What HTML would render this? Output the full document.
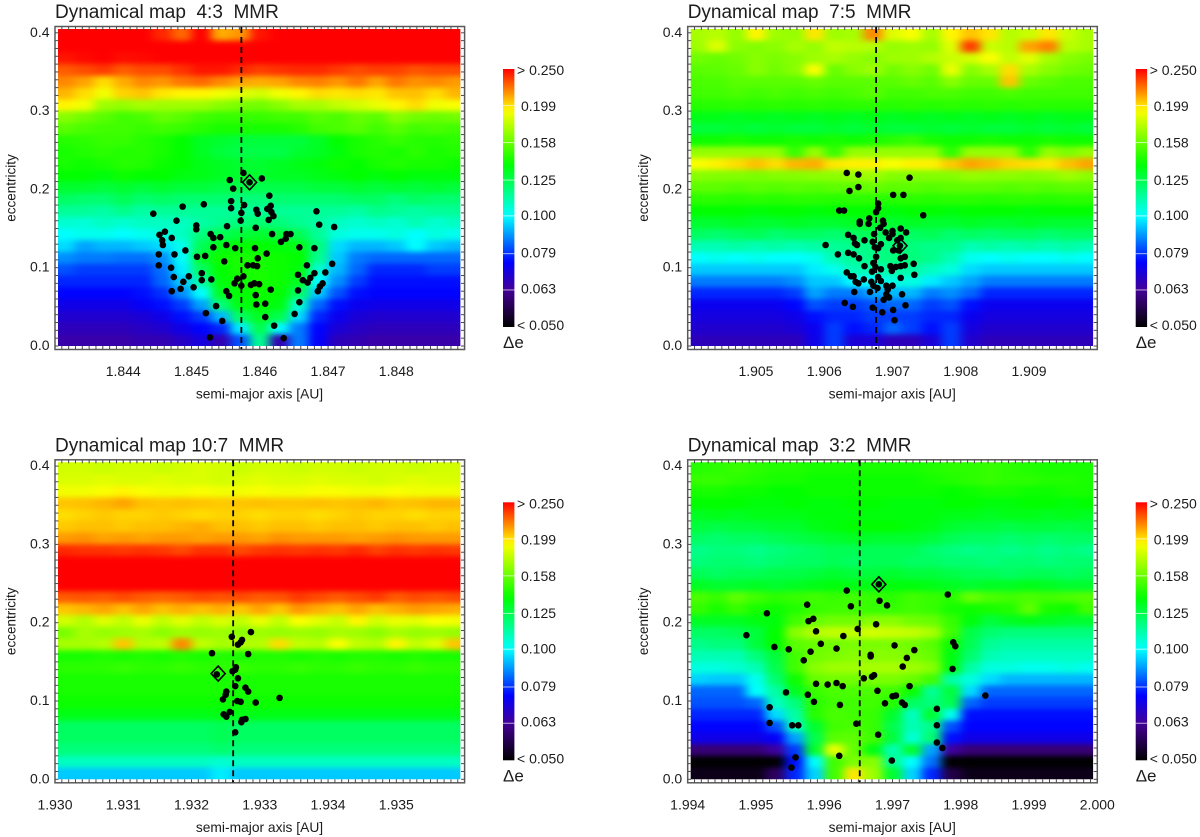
<!DOCTYPE html>
<html lang="en">
<head>
<meta charset="utf-8">
<title>Dynamical maps of mean-motion resonances</title>
<style>
html,body{margin:0;padding:0;background:#fff;}
svg{display:block;font-family:"Liberation Sans",sans-serif;}
text{fill:#1c1c1c;}
</style>
</head>
<body>
<svg id="figure" xmlns="http://www.w3.org/2000/svg" width="1200" height="837" viewBox="0 0 1200 837">
<defs>
<filter id="smooth" filterUnits="userSpaceOnUse" x="0" y="0" width="1200" height="837" color-interpolation-filters="sRGB">
<feGaussianBlur stdDeviation="5 2.6"/>
</filter>
</defs>
</svg>
<script>
const eccentricityRows = [0.3975,0.3825,0.3675,0.3525,0.3375,0.3225,0.3075,0.2925,0.2775,0.2625,0.2475,0.2325,0.2175,0.2025,0.1875,0.1725,0.1575,0.1425,0.1275,0.1125,0.0975,0.0825,0.0675,0.0525,0.0375,0.0225,0.0075];
const eccentricityTicks = ['0.0','0.1','0.2','0.3','0.4'];
const colorbarLabels = ['< 0.050','0.063','0.079','0.100','0.125','0.158','0.199','> 0.250'];
const colorbarValues = [0.05,0.063,0.079,0.1,0.125,0.158,0.199,0.25];

const ticks43 = ['1.844','1.845','1.846','1.847','1.848'];
const ticks75 = ['1.905','1.906','1.907','1.908','1.909'];
const ticks107 = ['1.930','1.931','1.932','1.933','1.934','1.935'];
const ticks32 = ['1.994','1.995','1.996','1.997','1.998','1.999','2.000'];

const values43 = [
[262,262,262,262,262,240,225,250,210,215,245,262,262,262,262,262,262,262,262,262,262],
[258,258,258,258,258,258,256,258,258,258,258,258,258,258,258,258,258,258,258,258,258],
[245,248,250,247,248,252,258,258,256,255,255,256,256,255,254,252,250,250,250,250,250],
[228,232,236,228,232,232,238,245,245,240,235,238,240,240,236,232,235,234,230,232,232],
[218,212,200,210,218,215,222,225,218,212,210,212,218,220,215,222,212,222,216,218,214],
[208,200,190,202,205,198,195,195,190,186,182,190,195,200,198,200,198,205,206,200,208],
[195,190,170,168,172,170,170,170,165,162,160,165,172,172,178,182,188,195,200,190,192],
[165,160,155,150,152,158,155,150,148,148,148,150,150,155,152,158,155,165,160,158,160],
[155,152,150,150,148,150,148,145,142,142,142,142,145,150,152,155,150,155,150,152,150],
[145,146,148,148,145,142,138,132,130,128,128,128,128,132,138,142,145,148,145,144,146],
[142,144,146,144,145,142,138,132,128,126,126,126,130,132,136,142,144,142,146,142,144],
[142,140,142,145,144,140,138,134,132,130,130,132,134,136,140,138,142,144,142,142,140],
[138,138,136,140,138,138,135,134,132,130,130,132,132,134,136,138,136,138,136,136,136],
[130,130,128,130,128,130,128,128,126,126,125,126,126,128,128,130,128,130,128,130,128],
[122,120,120,124,120,122,120,120,120,118,118,120,120,120,120,122,122,118,122,120,120],
[114,114,112,116,112,114,114,114,114,114,114,114,114,114,114,112,116,114,112,114,114],
[106,105,108,106,108,108,108,112,115,118,120,118,115,112,108,106,108,106,110,106,108],
[100,102,102,100,102,104,108,118,124,128,130,128,124,114,104,102,102,104,100,104,102],
[96,90,92,92,94,96,102,124,134,138,138,136,134,118,96,92,92,94,100,94,92],
[88,86,86,85,85,88,100,130,140,142,142,140,138,115,94,86,84,84,84,84,84],
[82,80,80,80,80,85,98,122,138,142,142,140,136,106,92,84,78,78,78,80,80],
[78,78,78,78,78,84,94,112,136,140,142,140,132,100,88,80,76,76,76,76,76],
[75,75,75,75,76,79,88,100,132,138,140,138,122,94,82,76,75,75,75,75,75],
[72,72,72,72,74,76,80,90,118,135,138,135,106,84,76,73,72,72,72,72,72],
[69,69,69,69,70,72,76,80,92,122,132,125,96,78,73,70,69,69,69,69,69],
[67,67,67,67,68,69,72,75,78,98,125,100,86,75,70,68,67,67,67,67,67],
[65,65,65,65,66,66,68,71,66,82,115,66,86,74,67,66,65,65,65,65,65]
];

const values75 = [
[172,176,168,195,170,168,198,170,172,218,185,192,172,195,205,198,175,180,198,180,172],
[170,185,166,164,166,172,168,178,176,175,168,170,168,185,236,180,176,212,220,176,172],
[160,158,160,165,162,165,170,172,168,165,170,170,175,180,182,192,178,186,172,165,162],
[155,156,158,165,160,165,192,158,165,170,160,165,160,188,165,172,200,172,165,160,158],
[152,152,155,155,155,155,158,155,155,155,155,158,155,165,158,158,205,158,155,152,152],
[150,150,152,150,152,150,152,150,152,155,150,150,152,152,150,150,152,150,150,150,150],
[145,145,146,145,146,145,146,145,146,146,145,146,145,146,145,146,145,146,145,145,145],
[134,134,132,134,132,134,132,134,132,134,132,134,132,134,132,134,132,134,132,134,134],
[128,128,130,128,130,128,128,130,128,130,128,128,130,128,130,128,128,130,128,130,128],
[140,140,142,140,140,142,140,142,140,142,145,148,142,140,140,142,140,140,142,140,140],
[168,168,168,168,168,148,168,148,168,168,168,168,168,146,168,168,168,146,168,162,168],
[192,196,200,206,200,208,210,198,196,196,192,196,196,204,212,208,202,200,198,206,212],
[165,164,164,162,164,164,166,166,168,170,164,164,164,164,168,166,166,164,166,170,166],
[156,156,154,156,154,156,154,156,156,158,156,156,154,156,156,156,154,156,154,156,156],
[146,146,145,146,145,146,146,145,146,146,145,146,145,146,146,145,146,146,145,146,146],
[138,138,138,136,138,138,136,138,138,138,136,138,138,136,138,138,138,136,138,138,138],
[130,130,132,130,130,132,130,130,132,132,130,132,130,130,132,130,130,132,130,130,130],
[122,120,122,124,120,122,122,120,122,124,122,122,124,120,122,120,122,122,120,122,122],
[110,110,112,110,112,110,112,114,116,116,118,118,116,116,110,112,110,112,110,112,110],
[100,102,100,102,100,100,102,110,114,116,118,118,116,110,102,100,102,100,100,102,100],
[94,94,94,94,94,94,98,102,110,110,112,112,108,104,96,94,94,94,94,94,94],
[86,86,86,86,86,88,94,94,100,100,104,104,98,94,90,86,86,86,86,86,86],
[78,78,78,78,78,80,90,86,86,90,92,92,86,88,84,78,78,78,78,78,78],
[73,73,73,73,73,75,82,80,80,82,84,84,80,82,76,73,73,73,73,73,73],
[71,71,71,71,71,72,76,78,78,80,80,80,78,78,73,71,71,71,71,71,71],
[69,69,69,69,69,70,73,80,76,78,84,80,76,80,71,69,69,69,69,69,69],
[67,67,67,67,67,67,72,80,70,70,67,67,70,80,69,67,67,67,67,67,67]
];

const values107 = [
[182,182,180,182,182,180,182,184,182,180,182,182,180,182,182,180,182,182,180,182,182],
[184,184,186,184,184,186,184,184,182,184,186,184,184,186,184,184,182,184,186,184,184],
[190,190,192,195,192,190,190,192,190,190,192,190,190,192,192,190,190,192,190,190,190],
[205,206,208,212,206,205,206,205,204,205,206,205,205,206,205,206,208,205,206,208,208],
[200,202,204,202,202,204,202,200,202,202,200,202,202,200,202,204,202,202,200,202,202],
[204,206,206,204,206,206,208,210,206,206,204,206,206,204,206,206,204,206,206,204,206],
[214,216,212,214,212,214,214,212,214,214,212,216,214,214,214,212,214,216,214,214,214],
[240,238,238,236,238,236,232,238,238,232,236,238,236,238,236,240,234,238,236,238,236],
[264,264,264,264,264,264,264,264,264,264,264,264,264,264,264,264,264,264,264,264,264],
[264,264,264,264,264,264,264,264,264,264,264,264,264,264,264,264,264,264,264,264,264],
[262,262,262,262,262,262,262,262,262,262,262,262,262,262,262,262,262,262,262,262,262],
[228,230,228,232,228,226,228,232,230,232,228,230,236,232,228,232,236,228,232,230,232],
[205,208,212,206,212,206,210,206,210,205,212,205,215,210,206,212,206,210,214,212,210],
[182,175,185,178,188,178,186,178,184,178,188,178,192,186,180,195,182,188,186,192,190],
[162,172,168,170,172,166,170,168,170,166,170,168,170,168,172,170,166,172,168,170,168],
[172,172,175,205,175,178,218,178,172,175,175,200,178,176,192,178,175,195,178,185,205],
[142,142,144,142,144,142,144,142,144,142,144,144,142,144,142,144,144,142,144,142,142],
[146,146,146,148,146,146,148,146,146,148,146,146,148,146,146,148,146,146,148,146,146],
[142,142,142,142,142,142,142,142,142,142,142,142,142,142,142,142,142,142,142,142,142],
[142,142,142,142,142,142,142,142,142,142,142,142,142,142,142,142,142,142,142,142,142],
[140,140,140,140,140,140,140,140,140,140,140,140,140,140,140,140,140,140,140,140,140],
[134,134,134,134,134,134,134,134,134,134,134,134,134,134,134,134,134,134,134,134,134],
[122,122,122,122,122,122,122,122,124,122,122,122,122,122,122,122,122,122,122,122,122],
[122,122,122,122,122,122,122,122,124,122,122,122,122,122,122,122,122,122,122,122,122],
[118,118,118,118,118,118,118,118,120,118,118,118,118,118,118,118,118,118,118,118,118],
[108,108,108,108,108,108,108,108,106,108,108,108,108,108,108,108,108,108,108,108,108],
[94,94,94,94,94,94,94,94,98,94,94,94,94,94,94,94,94,94,94,94,94]
];

const values32 = [
[145,146,148,146,144,144,142,142,142,142,142,142,144,146,146,148,146,144,142,142,142],
[148,148,146,144,142,142,140,140,140,140,140,140,142,144,146,148,146,146,144,144,142],
[142,142,140,140,138,138,140,140,140,140,140,140,140,138,140,142,142,140,140,142,142],
[138,138,138,136,136,138,136,136,138,138,136,136,136,138,138,136,136,138,138,136,138],
[132,134,132,134,134,134,136,136,136,136,136,136,136,134,134,132,134,134,132,134,132],
[128,126,128,128,130,130,134,136,138,138,138,136,134,130,128,128,126,128,128,126,128],
[122,120,122,122,124,126,128,130,132,130,130,130,128,124,122,122,120,122,120,122,122],
[116,118,118,116,118,120,122,124,124,124,124,124,120,118,116,118,116,118,116,118,116],
[118,120,120,118,120,122,122,124,122,124,124,122,122,120,120,118,120,120,118,120,120],
[124,122,124,124,126,126,128,130,128,128,130,128,128,126,124,124,122,124,124,122,124],
[132,130,130,132,130,132,134,136,134,134,136,136,134,132,130,132,132,134,132,130,130],
[152,148,156,150,146,148,150,148,150,148,146,150,148,145,158,152,150,152,150,152,154],
[148,142,148,142,140,144,148,150,150,148,148,150,148,142,140,142,144,156,142,140,150],
[132,132,132,135,136,150,158,160,160,165,165,160,158,148,136,128,132,134,132,130,130],
[122,122,124,128,138,165,175,178,178,182,180,178,172,150,126,120,118,118,118,118,118],
[116,118,118,128,138,155,158,160,162,162,162,160,155,140,124,114,112,112,112,112,112],
[110,110,110,118,128,150,160,162,165,165,165,162,158,135,120,110,108,108,108,108,108],
[104,104,106,110,125,150,165,170,170,172,172,170,165,135,112,104,104,102,102,104,102],
[95,94,94,102,120,140,158,160,160,162,162,158,150,112,104,96,92,92,92,92,92],
[84,84,84,100,112,132,148,152,152,152,150,140,114,128,96,84,84,84,84,84,84],
[82,82,82,84,108,118,145,150,150,150,145,122,118,125,84,80,80,80,80,80,80],
[78,78,78,78,96,112,145,152,150,148,130,108,130,102,76,76,76,76,76,76,76],
[75,75,75,75,82,108,130,150,152,148,125,110,116,82,75,75,75,75,75,75,75],
[72,72,72,72,74,90,125,155,156,150,128,105,120,76,72,72,72,72,72,72,72],
[60,60,60,60,64,80,130,188,158,135,110,130,90,64,60,60,60,60,60,60,60],
[42,42,42,42,48,76,100,150,162,165,115,100,85,48,42,42,42,42,42,42,42],
[52,52,52,52,58,78,95,150,198,170,130,95,78,56,52,52,52,52,52,52,52]
];

const dots43 = [[1.84444,0.169],[1.84487,0.178],[1.84518,0.181],[1.84478,0.160],[1.84507,0.154],[1.84507,0.149],[1.84461,0.146],[1.84453,0.142],[1.84471,0.138],[1.84457,0.135],[1.84458,0.129],[1.84452,0.117],[1.84475,0.117],[1.84491,0.122],[1.84508,0.114],[1.84520,0.115],[1.84452,0.103],[1.84470,0.100],[1.84474,0.088],[1.84496,0.089],[1.84488,0.082],[1.84484,0.073],[1.84471,0.070],[1.84503,0.075],[1.84515,0.093],[1.84515,0.084],[1.84529,0.085],[1.84528,0.143],[1.84532,0.138],[1.84542,0.139],[1.84532,0.126],[1.84551,0.129],[1.84564,0.125],[1.84552,0.153],[1.84548,0.108],[1.84556,0.212],[1.84561,0.201],[1.84558,0.185],[1.84558,0.176],[1.84576,0.221],[1.84603,0.214],[1.84577,0.180],[1.84573,0.170],[1.84572,0.160],[1.84595,0.174],[1.84597,0.169],[1.84614,0.192],[1.84616,0.179],[1.84611,0.175],[1.84617,0.171],[1.84620,0.166],[1.84613,0.161],[1.84594,0.151],[1.84618,0.143],[1.84639,0.143],[1.84645,0.143],[1.84638,0.137],[1.84631,0.133],[1.84593,0.125],[1.84610,0.118],[1.84597,0.112],[1.84582,0.103],[1.84590,0.103],[1.84596,0.102],[1.84576,0.089],[1.84567,0.086],[1.84563,0.080],[1.84573,0.077],[1.84587,0.078],[1.84592,0.080],[1.84599,0.079],[1.84616,0.072],[1.84594,0.065],[1.84595,0.053],[1.84608,0.054],[1.84608,0.037],[1.84621,0.026],[1.84635,0.010],[1.84527,0.011],[1.84521,0.042],[1.84536,0.051],[1.84545,0.032],[1.84551,0.070],[1.84555,0.064],[1.84651,0.041],[1.84658,0.056],[1.84656,0.071],[1.84656,0.091],[1.84663,0.084],[1.84670,0.081],[1.84674,0.087],[1.84680,0.093],[1.84696,0.094],[1.84669,0.103],[1.84658,0.126],[1.84680,0.125],[1.84706,0.105],[1.84692,0.080],[1.84688,0.076],[1.84685,0.070],[1.84683,0.172],[1.84687,0.155],[1.84709,0.152],[1.84585,0.209]];

const dots75 = [[1.90633,0.221],[1.90650,0.219],[1.90650,0.203],[1.90637,0.198],[1.90725,0.215],[1.90716,0.193],[1.90701,0.193],[1.90745,0.167],[1.90602,0.129],[1.90622,0.173],[1.90629,0.173],[1.90679,0.182],[1.90679,0.176],[1.90676,0.171],[1.90620,0.117],[1.90635,0.119],[1.90643,0.117],[1.90651,0.112],[1.90666,0.163],[1.90652,0.159],[1.90652,0.156],[1.90665,0.156],[1.90686,0.160],[1.90687,0.156],[1.90682,0.151],[1.90690,0.145],[1.90700,0.147],[1.90700,0.143],[1.90712,0.150],[1.90720,0.145],[1.90673,0.143],[1.90635,0.142],[1.90643,0.138],[1.90659,0.135],[1.90671,0.133],[1.90695,0.138],[1.90712,0.138],[1.90707,0.135],[1.90645,0.131],[1.90648,0.129],[1.90683,0.130],[1.90674,0.126],[1.90679,0.125],[1.90701,0.122],[1.90709,0.122],[1.90718,0.114],[1.90712,0.112],[1.90676,0.114],[1.90659,0.102],[1.90672,0.106],[1.90675,0.101],[1.90683,0.098],[1.90670,0.095],[1.90697,0.102],[1.90705,0.101],[1.90712,0.102],[1.90718,0.103],[1.90731,0.105],[1.90699,0.096],[1.90732,0.091],[1.90712,0.087],[1.90633,0.094],[1.90639,0.089],[1.90643,0.089],[1.90646,0.082],[1.90650,0.080],[1.90658,0.085],[1.90669,0.082],[1.90679,0.088],[1.90683,0.083],[1.90672,0.077],[1.90691,0.077],[1.90700,0.077],[1.90693,0.072],[1.90678,0.074],[1.90667,0.069],[1.90644,0.069],[1.90714,0.066],[1.90691,0.066],[1.90695,0.062],[1.90687,0.059],[1.90630,0.055],[1.90642,0.050],[1.90671,0.049],[1.90685,0.043],[1.90701,0.046],[1.90719,0.052],[1.90703,0.033],[1.90711,0.128]];

const dots107 = [[1.93287,0.188],[1.93259,0.182],[1.93274,0.178],[1.93272,0.175],[1.93268,0.172],[1.93230,0.161],[1.93283,0.160],[1.93265,0.143],[1.93264,0.140],[1.93260,0.138],[1.93237,0.134],[1.93268,0.129],[1.93264,0.119],[1.93279,0.117],[1.93283,0.112],[1.93251,0.112],[1.93250,0.108],[1.93246,0.102],[1.93267,0.100],[1.93272,0.099],[1.93294,0.098],[1.93329,0.104],[1.93256,0.086],[1.93247,0.083],[1.93251,0.080],[1.93279,0.077],[1.93274,0.076],[1.93273,0.073],[1.93264,0.060]];

const dots32 = [[1.99680,0.249],[1.99633,0.241],[1.99781,0.236],[1.99681,0.228],[1.99692,0.222],[1.99575,0.223],[1.99639,0.221],[1.99516,0.212],[1.99584,0.205],[1.99577,0.202],[1.99649,0.192],[1.99676,0.198],[1.99588,0.189],[1.99628,0.183],[1.99486,0.184],[1.99595,0.173],[1.99527,0.169],[1.99548,0.166],[1.99580,0.163],[1.99618,0.167],[1.99703,0.171],[1.99732,0.165],[1.99789,0.175],[1.99792,0.170],[1.99668,0.159],[1.99668,0.157],[1.99721,0.155],[1.99570,0.152],[1.99715,0.144],[1.99788,0.141],[1.99673,0.133],[1.99670,0.131],[1.99658,0.129],[1.99588,0.122],[1.99605,0.121],[1.99618,0.123],[1.99627,0.119],[1.99725,0.119],[1.99544,0.111],[1.99576,0.108],[1.99678,0.113],[1.99700,0.106],[1.99705,0.107],[1.99585,0.099],[1.99623,0.095],[1.99689,0.097],[1.99714,0.098],[1.99718,0.095],[1.99520,0.092],[1.99765,0.090],[1.99836,0.107],[1.99520,0.072],[1.99553,0.069],[1.99562,0.069],[1.99647,0.071],[1.99765,0.069],[1.99679,0.057],[1.99765,0.047],[1.99773,0.040],[1.99622,0.030],[1.99558,0.028],[1.99699,0.024],[1.99552,0.015]];

const marked43 = [1.84585,0.209];
const marked75 = [1.90711,0.128];
const marked107 = [1.93239,0.135];
const marked32 = [1.99680,0.249];

const resonance43 = 1.84573;
const resonance75 = 1.90676;
const resonance107 = 1.93261;
const resonance32 = 1.99652;

const ramp = [[0,[0,0,0]],[0.143,[69,0,149]],[0.25,[0,0,255]],[0.43,[0,255,255]],[0.63,[0,255,0]],[0.84,[255,255,0]],[1,[255,0,0]]];

function logPos(v){
  return Math.max(0,Math.min(1,Math.log(v/0.05)/Math.log(5)));
}
function colorAt(t){
  for(let i=1;i<ramp.length;i++){
    if(t<=ramp[i][0]){
      const a=ramp[i-1],b=ramp[i],f=(t-a[0])/(b[0]-a[0]);
      const c=a[1].map((x,k)=>Math.round(x+(b[1][k]-x)*f));
      return 'rgb('+c.join(',')+')';
    }
  }
  return 'rgb(255,0,0)';
}
const svg=document.getElementById('figure');
const NS='http://www.w3.org/2000/svg';
function make(tag,parent,attrs,text){
  const el=document.createElementNS(NS,tag);
  for(const k in attrs){el.setAttribute(k,attrs[k]);}
  if(text!==undefined){el.textContent=text;}
  parent.appendChild(el);
  return el;
}
const FRAME_W=409.6;
function drawPanel(id,title,ox,oy,aMin,aMax,values,tickLabels,dots,marked,resonance){
  const xScale=a=>55+ox+(a-aMin)/(aMax-aMin)*FRAME_W;
  const yScale=e=>346+oy-e*783;
  const panel=make('g',svg,{});
  
  

  const titleEl=make('text',panel,{x:55+ox,y:18+oy,'font-size':19,style:'white-space:pre'},title);
  
  

  const clip=make('clipPath',panel,{id:'clip-'+id});
  make('rect',clip,{x:58+ox,y:29+oy,width:402.4,height:317});
  const heatClip=make('g',panel,{'clip-path':'url(#clip-'+id+')'});
  
  
  const heat=make('g',heatClip,{filter:'url(#smooth)'});
  const cols=values[0].length;
  const span=(aMax-aMin)/cols;
  const rowStep=0.015;
  values.forEach((row,r)=>{
    row.forEach((v,c)=>{
      const a0=aMin+c*span;
      const e1=eccentricityRows[r]+rowStep/2;
      let x=xScale(a0),w=xScale(a0+span)-x+0.6;
      let y=yScale(e1),h=yScale(e1-rowStep)-y+0.6;
      if(c===0){x-=25;w+=25;}
      if(c===cols-1){w+=25;}
      if(r===0){y-=25;h+=25;}
      if(r===values.length-1){h+=25;}
      const cell=make('rect',heat,{x:x,y:y,width:w,height:h,fill:colorAt(logPos(v/1000))});
      
      
    });
  });

  const frame=make('rect',panel,{x:55+ox,y:26.5+oy,width:FRAME_W,height:323,fill:'none',stroke:'#5a5a5a','stroke-width':1.5});
  
  

  const tickGroup=make('g',panel,{stroke:'#4a4a4a','stroke-width':1});
  
  
  for(let i=1;i<60;i++){
    const x=xScale(aMin+(aMax-aMin)*i/60);
    make('line',tickGroup,{x1:x,x2:x,y1:26.5+oy,y2:30+oy});
    make('line',tickGroup,{x1:x,x2:x,y1:346+oy,y2:349.5+oy});
  }
  for(let i=0;i<=40;i++){
    const y=yScale(i/100);
    make('line',tickGroup,{x1:55+ox,x2:58.5+ox,y1:y,y2:y});
    make('line',tickGroup,{x1:461+ox,x2:464.6+ox,y1:y,y2:y});
  }
  eccentricityTicks.forEach(t=>{
    const lab=make('text',panel,{x:49.5+ox,y:yScale(parseFloat(t))+4,'font-size':14,'text-anchor':'end'},t);
    
    
  });
  tickLabels.forEach(t=>{
    const lab=make('text',panel,{x:xScale(parseFloat(t)),y:376+oy,'font-size':14,'text-anchor':'middle'},t);
    
    
  });
  const xTitle=make('text',panel,{x:259.5+ox,y:398.5+oy,'font-size':13.8,'text-anchor':'middle'},'semi-major axis [AU]');
  
  
  const yTitle=make('text',panel,{x:0,y:0,'font-size':13.5,'text-anchor':'middle',transform:'translate('+(15.5+ox)+','+(188+oy)+') rotate(-90)'},'eccentricity');
  
  

  const res=make('line',panel,{x1:xScale(resonance),x2:xScale(resonance),y1:27+oy,y2:349+oy,stroke:'#000','stroke-width':1.8,'stroke-dasharray':'6 4'});
  
  

  dots.forEach(d=>{
    const dot=make('circle',panel,{cx:xScale(d[0]),cy:yScale(d[1]),r:3.3,fill:'#000'});
    
    
  });
  const mx=xScale(marked[0]),my=yScale(marked[1]);
  const diamond=make('polygon',panel,{points:(mx-7)+','+my+' '+mx+','+(my-7.5)+' '+(mx+7)+','+my+' '+mx+','+(my+7.5),fill:'none',stroke:'#000','stroke-width':1.6});
  
  

  const bar=make('g',panel,{});
  
  
  const grad=make('linearGradient',bar,{id:'grad-'+id,x1:0,y1:1,x2:0,y2:0});
  for(let i=0;i<=40;i++){
    make('stop',grad,{offset:i/40,'stop-color':colorAt(i/40)});
  }
  make('rect',bar,{x:503+ox,y:69+oy,width:11.4,height:258,fill:'url(#grad-'+id+')'});
  colorbarValues.forEach((v,i)=>{
    const t=logPos(v);
    if(i>0&&i<colorbarValues.length-1){
      const y=69+oy+(1-t)*258;
      make('line',bar,{x1:503+ox,x2:514.4+ox,y1:y,y2:y,stroke:'#fff','stroke-opacity':0.65,'stroke-width':1});
    }
    const lab=make('text',panel,{x:(colorbarLabels[i].length>5?517:521)+ox,y:70+oy+(1-t)*255+5,'font-size':14},colorbarLabels[i]);
    
    
  });
  const de=make('text',panel,{x:503+ox,y:348+oy,'font-size':17},'Δe');
  
  
}
drawPanel('4-3','Dynamical map  4:3  MMR',0,0,1.843,1.849,values43,ticks43,dots43,marked43,resonance43);
drawPanel('7-5','Dynamical map  7:5  MMR',632.7,0,1.904,1.910,values75,ticks75,dots75,marked75,resonance75);
drawPanel('10-7','Dynamical map 10:7  MMR',0,433.3,1.930,1.936,values107,ticks107,dots107,marked107,resonance107);
drawPanel('3-2','Dynamical map  3:2  MMR',632.7,433.3,1.994,2.000,values32,ticks32,dots32,marked32,resonance32);
</script>
</body>
</html>
